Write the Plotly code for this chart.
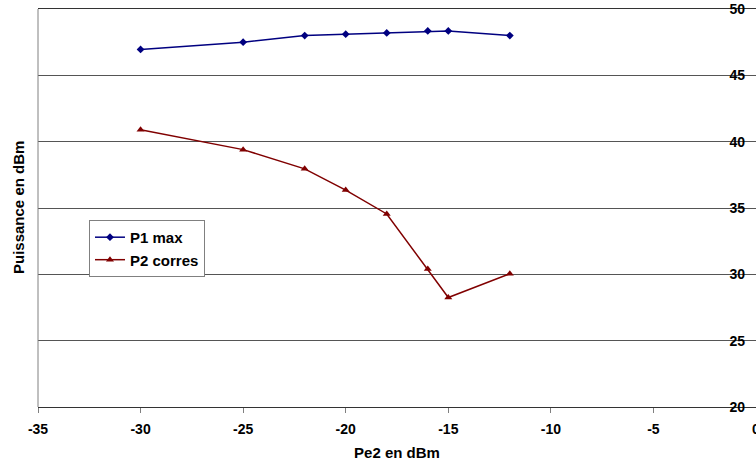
import plotly.graph_objects as go

pe2 = [-30, -25, -22, -20, -18, -16, -15, -12]
p1_max = [46.95, 47.5, 48.0, 48.1, 48.2, 48.35, 48.35, 48.0]
p2_corres = [40.9, 39.4, 37.95, 36.35, 34.55, 30.4, 28.25, 30.05]

x_ticks = [-35, -30, -25, -20, -15, -10, -5, 0]
y_ticks = [20, 25, 30, 35, 40, 45, 50]

FAM = "Liberation Sans"
font_t = dict(family=FAM, size=14, color="black")
font_big = dict(family=FAM, size=15, color="black")

def b(s):
    return "<b>%s</b>" % s

fig = go.Figure()
fig.add_trace(go.Scatter(x=pe2, y=p1_max, name=b("P1 max"), mode="lines+markers",
                         line=dict(color="#000080", width=1.5),
                         marker=dict(symbol="diamond", size=6, color="#000080")))
fig.add_trace(go.Scatter(x=pe2, y=p2_corres, name=b("P2 corres"), mode="lines+markers",
                         line=dict(color="#800000", width=1.5),
                         marker=dict(symbol="triangle-up", size=7, color="#800000")))

fig.update_layout(
    width=756, height=464,
    margin=dict(l=38, r=0, t=9, b=57, autoexpand=False),
    paper_bgcolor="white", plot_bgcolor="white",
    font=font_t,
    showlegend=True,
    legend=dict(x=0.071, y=0.47, xanchor="left", yanchor="top",
                bgcolor="white", bordercolor="#808080", borderwidth=1,
                font=font_big, itemwidth=30, tracegroupgap=0),
    xaxis=dict(range=[-35, 0], tickvals=x_ticks, ticktext=[b(v) for v in x_ticks],
               showgrid=False, zeroline=False, showline=True, linecolor="#333", linewidth=1,
               mirror=True, ticks="outside", ticklen=5, tickcolor="#808080",
               ticklabelstandoff=4,
               automargin=False, ticklabeloverflow="allow",
               title=dict(text=b("Pe2 en dBm"), font=font_big, standoff=11),
               tickfont=font_t),
    yaxis=dict(range=[20, 50], tickvals=y_ticks, ticktext=[b(v) for v in y_ticks],
               side="right", ticklabelposition="inside", ticks="",
               ticklabelstandoff=8, ticklabeloverflow="allow",
               showgrid=True, gridcolor="#555", gridwidth=1,
               zeroline=False, showline=False, automargin=False,
               tickfont=font_t),
    annotations=[dict(text=b("Puissance en dBm"), textangle=-90, xref="paper", yref="paper",
                      x=0, y=0.5, xanchor="center", yanchor="middle", xshift=-20,
                      showarrow=False, font=font_big)],
    shapes=[dict(type="line", xref="paper", yref="paper", x0=0, x1=0, y0=0, y1=1,
                 line=dict(color="#808080", width=1))],
)

fig.write_html("out.html", config={"displayModeBar": False},
               post_script="document.body.style.margin='0';document.body.style.overflow='hidden';")
